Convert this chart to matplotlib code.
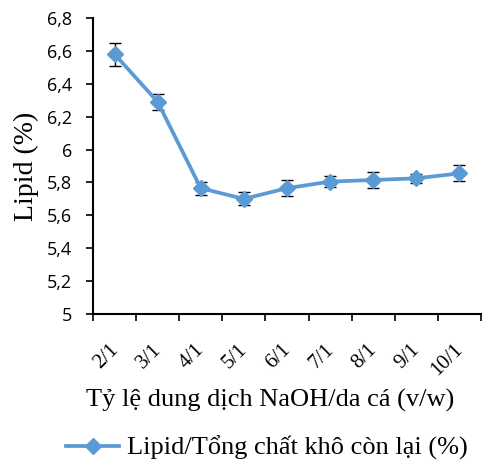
import numpy as np
import matplotlib.pyplot as plt
from matplotlib.ticker import FixedLocator
from matplotlib.transforms import ScaledTranslation

categories = ['2/1', '3/1', '4/1', '5/1', '6/1', '7/1', '8/1', '9/1', '10/1']
lipid = [6.58, 6.29, 5.765, 5.70, 5.765, 5.805, 5.815, 5.825, 5.855]
lipid_err = [0.07, 0.05, 0.04, 0.04, 0.05, 0.035, 0.05, 0.026, 0.049]
y_ticks = [5, 5.2, 5.4, 5.6, 5.8, 6, 6.2, 6.4, 6.6, 6.8]
y_tick_labels = ['5', '5,2', '5,4', '5,6', '5,8', '6', '6,2', '6,4', '6,6', '6,8']

serif = 'Liberation Serif'
blue = '#5B9BD5'

fig = plt.figure(figsize=(4.84, 4.69), dpi=100)
ax = fig.add_axes([93 / 484, 155 / 469, 388 / 484, 296 / 469])

x = np.arange(len(categories))
ax.errorbar(x, lipid, yerr=lipid_err, fmt='none', ecolor='black',
            elinewidth=1, capsize=4.5, capthick=1, zorder=2)
ax.plot(x, lipid, color=blue, linewidth=2.7, marker='D', markersize=8.5,
        label='Lipid/Tổng chất khô còn lại (%)', zorder=3)

ax.set_xlim(-0.5, len(categories) - 0.5)
ax.set_ylim(5, 6.8)

ax.set_yticks(y_ticks)
ax.set_yticklabels(y_tick_labels, fontfamily='Open Sans', fontsize=13)
ax.tick_params(axis='y', direction='out', length=5, width=1.2, pad=10)

ax.set_xticks(x)
ax.set_xticklabels(categories, rotation=45, ha='right', va='top',
                   rotation_mode='anchor', fontfamily=serif, fontsize=15)
ax.tick_params(axis='x', which='major', length=0, pad=19)
shift = ScaledTranslation(-6 / 100, 0, fig.dpi_scale_trans)
for lbl in ax.get_xticklabels():
    lbl.set_transform(lbl.get_transform() + shift)
ax.xaxis.set_minor_locator(FixedLocator(np.arange(len(categories) + 1) - 0.5))
ax.tick_params(axis='x', which='minor', direction='out', length=5, width=1.2)

for side in ['top', 'right']:
    ax.spines[side].set_visible(False)
for side in ['left', 'bottom']:
    ax.spines[side].set_linewidth(1.5)

ax.set_ylabel('Lipid (%)', fontfamily=serif, fontsize=20, va='center')
ax.yaxis.set_label_coords(-(93 - 26) / 388, 0.5)
ax.set_xlabel('Tỷ lệ dung dịch NaOH/da cá (v/w)', fontfamily=serif, fontsize=19)
ax.xaxis.set_label_coords((270 - 93) / 388, -(400 - 314) / 296)
ax.xaxis.label.set_va('center')

leg = fig.legend(loc='center', bbox_to_anchor=(267 / 484, 1 - 448 / 469),
                 frameon=False, prop={'family': serif, 'size': 19},
                 handlelength=2.0, handletextpad=0.3)

fig.savefig('out.png', dpi=100)
